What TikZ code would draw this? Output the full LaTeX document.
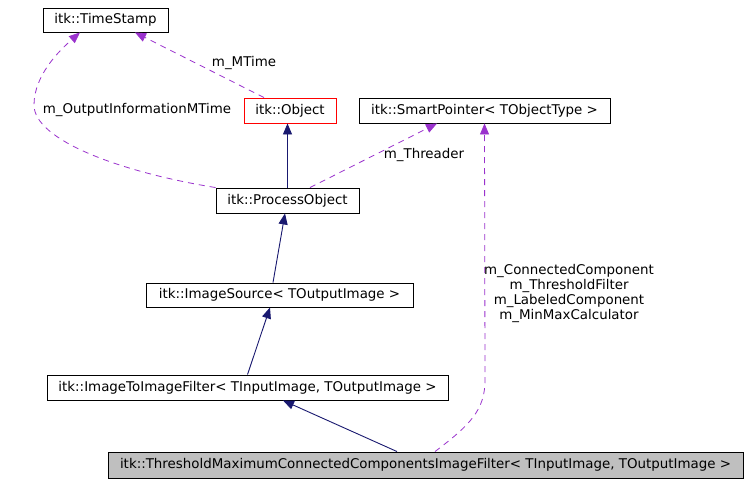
\documentclass[tikz,border=0pt]{standalone}
\usepackage{fontspec}
\setmainfont{DejaVu Sans}
\usetikzlibrary{arrows.meta}
\definecolor{edgeblue}{HTML}{191970}
\definecolor{edgepurple}{HTML}{9A32CD}
\definecolor{boxgrey}{HTML}{BFBFBF}
\tikzset{
  box/.style={draw=black, rectangle, inner sep=0pt, font=\fontsize{13.4}{15}\selectfont, line width=0.9pt},
  inh/.style={draw=edgeblue, line width=0.9pt, -{Triangle[length=11pt,width=9pt]}, color=edgeblue},
  use/.style={draw=edgepurple, line width=0.8pt, dash pattern=on 6pt off 5pt, -{Triangle[length=11pt,width=9pt]}, color=edgepurple},
  lbl/.style={font=\fontsize{13.4}{15}\selectfont, inner sep=0pt, align=center, text=black}
}
\begin{document}
\begin{tikzpicture}[x=1pt,y=-1pt]
\useasboundingbox[fill=white] (0,0) rectangle (747,483);
\node[box, minimum width=125pt, minimum height=24pt] (ts) at (105.5,20) {itk::TimeStamp};
\node[box, draw=red, minimum width=92pt, minimum height=25pt] (obj) at (290,110.5) {itk::Object};
\node[box, minimum width=251pt, minimum height=25pt] (sp) at (484.5,110.5) {itk::SmartPointer< TObjectType >};
\node[box, minimum width=143pt, minimum height=25pt] (po) at (287.5,200.5) {itk::ProcessObject};
\node[box, minimum width=267pt, minimum height=24pt] (is) at (279.5,295) {itk::ImageSource< TOutputImage >};
\node[box, minimum width=401pt, minimum height=25pt] (itf) at (247.5,387.5) {itk::ImageToImageFilter< TInputImage, TOutputImage >};
\node[box, fill=boxgrey, minimum width=635pt, minimum height=26pt] (thr) at (425.5,465) {itk::ThresholdMaximumConnectedComponentsImageFilter< TInputImage, TOutputImage >};

\draw[inh] (po.north) -- (po.north |- obj.south);
\draw[inh] ([xshift=-6.5pt]is.north) -- ([xshift=-2.5pt]po.south);
\draw[inh] (itf.north) -- ([xshift=-9.5pt]is.south);
\draw[inh] ([xshift=-28.5pt]thr.north) -- ([xshift=35.5pt]itf.south);

\draw[use] ([xshift=-26pt]obj.north) -- ([xshift=29.5pt]ts.south);
\node[lbl] (l0) at (244,63) {m\_MTime};
\draw[use] (po.north west) .. controls (120,172) and (34,140) .. (34,105) .. controls (34,75) and (60,50) .. ([xshift=-25.5pt]ts.south);
\node[lbl] (l1) at (137,110) {m\_OutputInformationMTime};
\draw[use] ([xshift=22.5pt]po.north) -- ([xshift=-47.5pt]sp.south);
\node[lbl] (l2) at (424,155) {m\_Threader};
\draw[use] ([xshift=9.5pt]thr.north) .. controls (470,425) and (485,410) .. (485,380) -- (sp.south);
\node[lbl] (l3) at (569,293) {m\_ConnectedComponent\\m\_ThresholdFilter\\m\_LabeledComponent\\m\_MinMaxCalculator};
\end{tikzpicture}
\end{document}
